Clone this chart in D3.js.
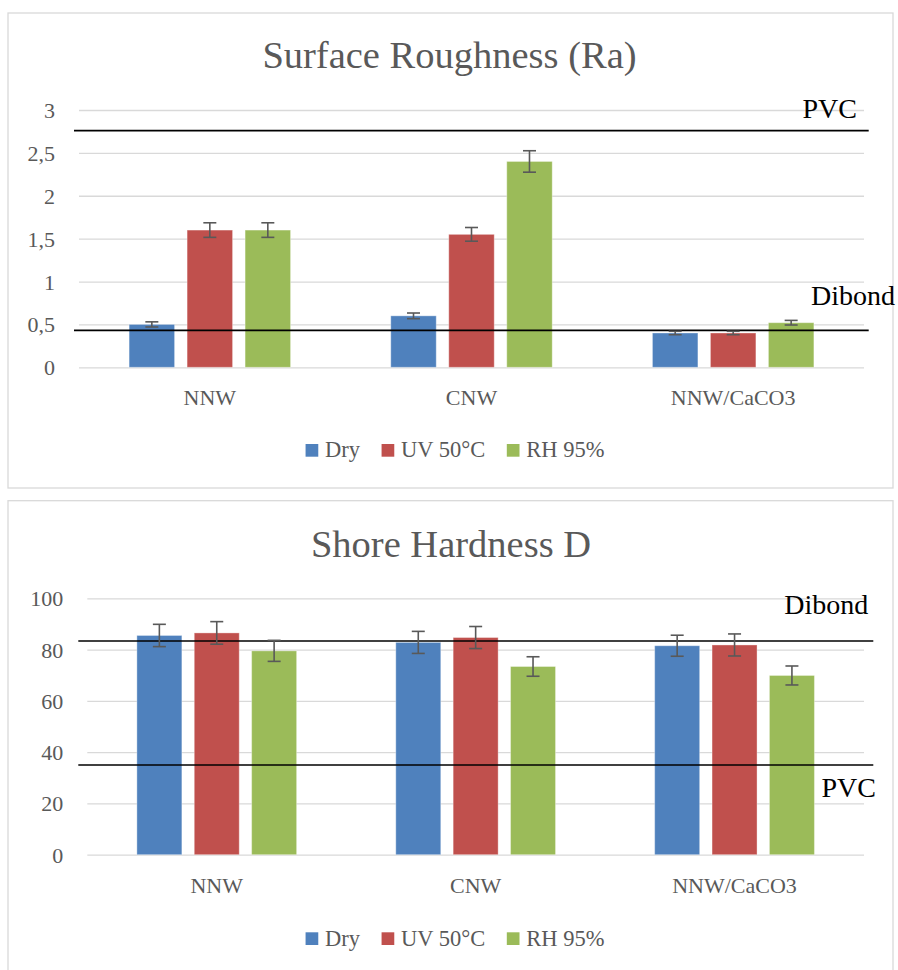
<!DOCTYPE html>
<html>
<head>
<meta charset="utf-8">
<script src="https://cdn.jsdelivr.net/npm/d3@7"></script>
<style>
  html, body { margin: 0; padding: 0; background: #fff; }
  svg { display: block; }
  text { font-family: "Liberation Serif", "DejaVu Serif", serif; }
</style>
</head>
<body>
<svg id="chart" width="898" height="970"></svg>
<script>
// ---------- DATA ----------
const categories = ["NNW", "CNW", "NNW/CaCO3"];
const seriesNames = ["Dry", "UV 50°C", "RH 95%"];
const seriesColors = ["#4F81BD", "#C0504D", "#9BBB59"];

// Surface Roughness (Ra)
const roughDry = [0.50, 0.60, 0.40];
const roughUV  = [1.60, 1.55, 0.40];
const roughRH  = [1.60, 2.40, 0.52];
const roughErrDry = [0.03, 0.033, 0.02];
const roughErrUV  = [0.085, 0.08, 0.02];
const roughErrRH  = [0.085, 0.125, 0.027];
const roughTicks = [0, 0.5, 1, 1.5, 2, 2.5, 3];
const roughTickLabels = ["0", "0,5", "1", "1,5", "2", "2,5", "3"];
const roughRefNames = ["PVC", "Dibond"];
const roughRefValues = [2.76, 0.43];

// Shore Hardness D
const hardDry = [85.5, 82.8, 81.5];
const hardUV  = [86.5, 84.7, 81.8];
const hardRH  = [79.5, 73.4, 69.9];
const hardErrDry = [4.35, 4.3, 4.1];
const hardErrUV  = [4.4, 4.3, 4.3];
const hardErrRH  = [4.1, 3.8, 3.7];
const hardTicks = [0, 20, 40, 60, 80, 100];
const hardTickLabels = ["0", "20", "40", "60", "80", "100"];
const hardRefNames = ["Dibond", "PVC"];
const hardRefValues = [83.3, 35];

// ---------- DRAW ----------
const svg = d3.select("#chart");

function drawChart(cfg) {
  const g = svg.append("g");
  // outer border
  g.append("rect")
    .attr("x", cfg.box[0]).attr("y", cfg.box[1])
    .attr("width", cfg.box[2] - cfg.box[0]).attr("height", cfg.box[3] - cfg.box[1])
    .attr("fill", "#fff").attr("stroke", "#D9D9D9").attr("stroke-width", 1.3);

  // title
  g.append("text").attr("x", cfg.titleX).attr("y", cfg.titleY)
    .attr("text-anchor", "middle").attr("font-size", 38.5).attr("fill", "#595959")
    .text(cfg.title);

  const y = d3.scaleLinear().domain(cfg.yDomain).range(cfg.yRange);
  const x = d3.scaleBand().domain(categories).range(cfg.xRange).paddingInner(0).paddingOuter(0);
  const groupW = x.bandwidth() * 0.617;
  const xi = d3.scaleBand().domain(seriesNames).range([-groupW / 2, groupW / 2]).paddingInner(0.216).paddingOuter(0);

  // gridlines
  const yAxis = d3.axisLeft(y).tickValues(cfg.ticks).tickSize(-(cfg.xRange[1] - cfg.xRange[0])).tickFormat((d, i) => cfg.tickLabels[i]);
  const ax = g.append("g").attr("transform", `translate(${cfg.xRange[0]},0)`).call(yAxis);
  ax.select(".domain").remove();
  ax.selectAll(".tick line").attr("stroke", "#D9D9D9").attr("stroke-width", 1.3);
  ax.selectAll(".tick text")
    .attr("x", cfg.tickRight - cfg.xRange[0]).attr("dy", "0.34em")
    .attr("font-size", 22).attr("fill", "#595959").attr("text-anchor", "end");

  // bars
  const series = cfg.values.map((vals, si) => ({ name: seriesNames[si], color: seriesColors[si], vals, errs: cfg.errors[si] }));
  series.forEach(s => {
    const sg = g.append("g");
    sg.selectAll("rect").data(categories).join("rect")
      .attr("x", c => x(c) + x.bandwidth() / 2 + xi(s.name))
      .attr("width", xi.bandwidth())
      .attr("y", (c, i) => y(s.vals[i]))
      .attr("height", (c, i) => y(0) - y(s.vals[i]))
      .attr("fill", s.color)
      .attr("stroke", "rgba(255,255,255,0.35)").attr("stroke-width", 1);
  });

  // reference lines
  cfg.refNames.forEach((name, i) => {
    const v = cfg.refValues[i];
    g.append("line")
      .attr("x1", cfg.refX[0]).attr("x2", cfg.refX[1])
      .attr("y1", y(v)).attr("y2", y(v))
      .attr("stroke", "#000").attr("stroke-width", cfg.refWidth[i]);
    g.append("text")
      .attr("x", cfg.refLabelX[i]).attr("y", cfg.refLabelY[i])
      .attr("text-anchor", "end").attr("font-size", 28).attr("fill", "#000")
      .text(name);
  });

  // error bars
  series.forEach(s => {
    const eg = g.append("g").attr("stroke", "#595959").attr("stroke-width", 1.6);
    categories.forEach((c, i) => {
      const cx = x(c) + x.bandwidth() / 2 + xi(s.name) + xi.bandwidth() / 2;
      const y1 = y(s.vals[i] + s.errs[i]), y2 = y(s.vals[i] - s.errs[i]);
      eg.append("line").attr("x1", cx).attr("x2", cx).attr("y1", y1).attr("y2", y2);
      eg.append("line").attr("x1", cx - 6.5).attr("x2", cx + 6.5).attr("y1", y1).attr("y2", y1);
      eg.append("line").attr("x1", cx - 6.5).attr("x2", cx + 6.5).attr("y1", y2).attr("y2", y2);
    });
  });

  // category labels
  g.selectAll("text.cat").data(categories).join("text").attr("class", "cat")
    .attr("x", c => x(c) + x.bandwidth() / 2).attr("y", cfg.catY)
    .attr("text-anchor", "middle").attr("font-size", 22).attr("fill", "#595959")
    .text(c => c);

  // legend
  const lg = g.append("g");
  let cx = 0;
  const items = [];
  seriesNames.forEach((n, i) => {
    const it = lg.append("g");
    it.append("rect").attr("x", 0).attr("y", -12.7).attr("width", 12.7).attr("height", 12.7).attr("fill", seriesColors[i]);
    const t = it.append("text").attr("x", 19.5).attr("y", 0.6).attr("font-size", 22.5).attr("fill", "#595959").text(n);
    const w = 19.5 + t.node().getComputedTextLength();
    it.attr("transform", `translate(${cx},0)`);
    items.push(it);
    cx += w + 21.5;
  });
  const totalW = cx - 21.5;
  lg.attr("transform", `translate(${cfg.legendCX - totalW / 2},${cfg.legendY})`);
}

drawChart({
  title: "Surface Roughness (Ra)",
  box: [8, 13, 893, 488],
  titleX: 449.5, titleY: 68,
  yDomain: [0, 3], yRange: [367.3, 110],
  xRange: [79, 864],
  tickRight: 55,
  ticks: roughTicks, tickLabels: roughTickLabels,
  values: [roughDry, roughUV, roughRH],
  errors: [roughErrDry, roughErrUV, roughErrRH],
  refNames: roughRefNames, refValues: roughRefValues,
  refX: [74, 868.7], refWidth: [1.8, 1.6],
  refLabelX: [857, 895], refLabelY: [118, 305],
  catY: 405,
  legendCX: 455, legendY: 456.7
});

drawChart({
  title: "Shore Hardness D",
  box: [8, 500.7, 893, 980],
  titleX: 451, titleY: 556.5,
  yDomain: [0, 100], yRange: [854.7, 598.3],
  xRange: [87.3, 864],
  tickRight: 63.3,
  ticks: hardTicks, tickLabels: hardTickLabels,
  values: [hardDry, hardUV, hardRH],
  errors: [hardErrDry, hardErrUV, hardErrRH],
  refNames: hardRefNames, refValues: hardRefValues,
  refX: [78.3, 873.3], refWidth: [1.5, 1.5],
  refLabelX: [868.3, 876], refLabelY: [614, 796.7],
  catY: 892.7,
  legendCX: 455, legendY: 945
});
</script>
</body>
</html>
